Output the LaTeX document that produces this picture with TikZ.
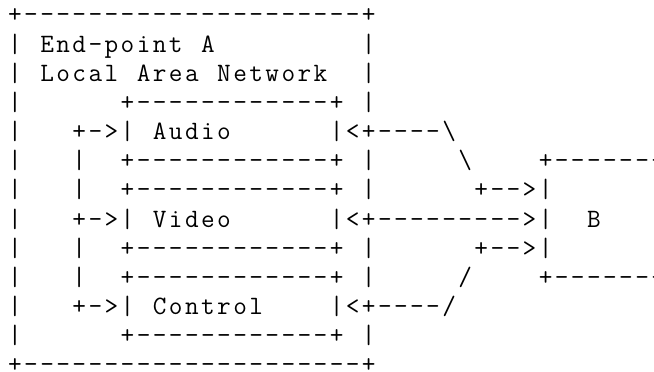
\documentclass[tikz,border=0pt]{standalone}
\usepackage{fontspec}
\newcommand\asciifont{\ttfamily\fontsize{26.5pt}{29.15pt}\selectfont}
\newcommand\bs{\textbackslash}
\newlength\cellw
\setlength\cellw{16.08pt}
\def\cells#1{\cellsi#1\relax}
\def\cellsi#1{\ifx\relax#1\else\makebox[\cellw][c]{#1}\expandafter\cellsi\fi}
\tikzset{asciirow/.style={anchor=base west, inner sep=0pt, outer sep=0pt, font=\asciifont}}
\begin{document}
\begin{tikzpicture}[x=1pt,y=1pt]
\useasboundingbox (0,0) rectangle (654,372);
\fill[white] (0,0) rectangle (654,372);
\clip (0,0) rectangle (654,372);
\def\xo{6.96}
\node[asciirow] (r0)  at (\xo,{372-23-0*29.15})  {\cells{+---------------------+}};
\node[asciirow] (r1)  at (\xo,{372-23-1*29.15})  {\cells{|~End-point~A~~~~~~~~~|}};
\node[asciirow] (r2)  at (\xo,{372-23-2*29.15})  {\cells{|~Local~Area~Network~~|}};
\node[asciirow] (r3)  at (\xo,{372-23-3*29.15})  {\cells{|~~~~~~+------------+~|}};
\node[asciirow] (r4)  at (\xo,{372-23-4*29.15})  {\cells{|~~~+->|~Audio~~~~~~|<+----\bs}};
\node[asciirow] (r5)  at (\xo,{372-23-5*29.15})  {\cells{|~~~|~~+------------+~|~~~~~\bs~~~~+-------}};
\node[asciirow] (r6)  at (\xo,{372-23-6*29.15})  {\cells{|~~~|~~+------------+~|~~~~~~+-->|}};
\node[asciirow] (r7)  at (\xo,{372-23-7*29.15})  {\cells{|~~~+->|~Video~~~~~~|<+--------->|~~B}};
\node[asciirow] (r8)  at (\xo,{372-23-8*29.15})  {\cells{|~~~|~~+------------+~|~~~~~~+-->|}};
\node[asciirow] (r9)  at (\xo,{372-23-9*29.15})  {\cells{|~~~|~~+------------+~|~~~~~/~~~~+-------}};
\node[asciirow] (r10) at (\xo,{372-23-10*29.15}) {\cells{|~~~+->|~Control~~~~|<+----/}};
\node[asciirow] (r11) at (\xo,{372-23-11*29.15}) {\cells{|~~~~~~+------------+~|}};
\node[asciirow] (r12) at (\xo,{372-23-12*29.15}) {\cells{+---------------------+}};
\end{tikzpicture}
\end{document}
